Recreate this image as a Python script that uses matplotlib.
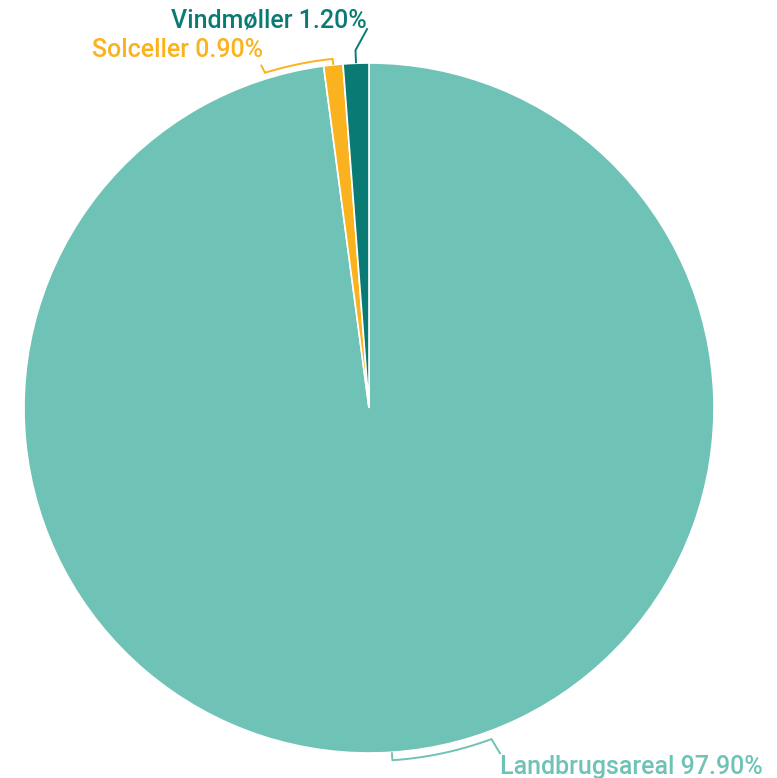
import numpy as np
import matplotlib
matplotlib.use("Agg")
import matplotlib.pyplot as plt

labels = ["Landbrugsareal", "Solceller", "Vindmøller"]
values = [97.9, 0.9, 1.2]
colors = ["#6fc2b6", "#fbb21f", "#0a7b74"]

W, H = 777, 778
fig = plt.figure(figsize=(W/100, H/100), dpi=100)
ax = fig.add_axes([0, 0, 1, 1])
ax.set_xlim(0, W)
ax.set_ylim(0, H)
ax.set_aspect("equal")
ax.axis("off")

cx, cy, R = 369, H - 408, 345
wedges, _ = ax.pie(values, colors=colors, startangle=90, counterclock=False,
                   center=(cx, cy), radius=R, frame=False,
                   wedgeprops=dict(edgecolor="white", linewidth=1.2))
ax.set_xlim(0, W)
ax.set_ylim(0, H)

def P(ang, r):
    a = np.deg2rad(ang)
    return cx + r*np.cos(a), cy + r*np.sin(a)

def arc(a0, a1, r, n=60):
    t = np.deg2rad(np.linspace(a0, a1, n))
    return cx + r*np.cos(t), cy + r*np.sin(t)

font = dict(family=["Roboto", "DejaVu Sans"], fontweight="medium", fontsize=18)

# Landbrugsareal leader
a0 = -86.2
a1 = -69.7
x0, y0 = P(a0, R)
x1, y1 = P(a0, R + 8)
xa, ya = arc(a0, a1, R + 8)
x2, y2 = P(a1, R + 8)
xs = [x0, x1] + list(xa) + [x2 + 9]
ys = [y0, y1] + list(ya) + [y2 - 15]
ax.plot(xs, ys, color=colors[0], lw=1.4, solid_capstyle="butt")
ax.text(500, H - 774, f"{labels[0]} {values[0]:.2f}%", color=colors[0],
        ha="left", va="baseline", **font)

# Solceller leader
a0 = 90 + 360*(values[2] + values[1]/2)/100
a1 = a0 + 11.3
x0, y0 = P(a0, R)
x1, y1 = P(a0, R + 6)
xa, ya = arc(a0, a1, R + 6)
x2, y2 = P(a1, R + 6)
xs = [x0, x1] + list(xa) + [x2 - 4]
ys = [y0, y1] + list(ya) + [y2 + 8]
ax.plot(xs, ys, color=colors[1], lw=1.4, solid_capstyle="butt")
ax.text(263, H - 57, f"{labels[1]} {values[1]:.2f}%", color=colors[1],
        ha="right", va="baseline", **font)

# Vindmøller leader
a0 = 90 + 360*(values[2]/2)/100
x0, y0 = P(a0, R)
x1, y1 = P(a0, R + 13)
ax.plot([x0, x1, x1 + 12], [y0, y1, y1 + 22], color=colors[2], lw=1.4,
        solid_capstyle="butt")
ax.text(367, H - 27, f"{labels[2]} {values[2]:.2f}%", color=colors[2],
        ha="right", va="baseline", **font)

fig.savefig("out.png", dpi=100, facecolor="white")
